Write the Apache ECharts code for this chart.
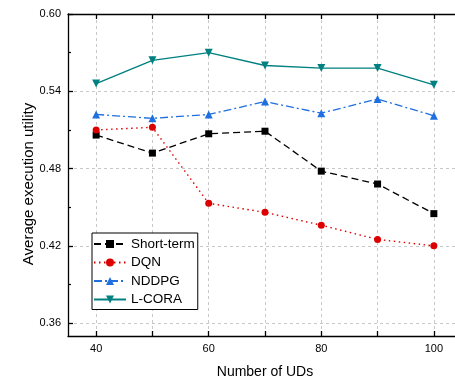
<!DOCTYPE html>
<html>
<head>
<meta charset="utf-8">
<script src="https://cdn.jsdelivr.net/npm/echarts@6/dist/echarts.min.js"></script>
<style>html,body{margin:0;padding:0;background:#fff;}#c{width:455px;height:379px;}</style>
</head>
<body>
<div id="c"></div>
<script>
var xValues = [40, 50, 60, 70, 80, 90, 100];
var shortTerm = [0.506, 0.492, 0.507, 0.509, 0.478, 0.468, 0.445];
var dqn = [0.510, 0.512, 0.453, 0.446, 0.436, 0.425, 0.420];
var nddpg = [0.522, 0.519, 0.522, 0.532, 0.523, 0.534, 0.521];
var lcora = [0.546, 0.564, 0.570, 0.560, 0.558, 0.558, 0.545];
var xTickValues = [40, 50, 60, 70, 80, 90, 100];
var xLabelValues = [40, 60, 80, 100];
var yMajorValues = [0.36, 0.42, 0.48, 0.54, 0.60];
var yMinorValues = [0.39, 0.45, 0.51, 0.57];
var seriesNames = ['Short-term', 'DQN', 'NDDPG', 'L-CORA'];

function pairs(arr) { return arr.map(function (v, i) { return [xValues[i], v]; }); }

var font = 'Liberation Sans, Arial, sans-serif';
var chart = echarts.init(document.getElementById('c'), null, { renderer: 'canvas' });
var axisLine = { show: true, lineStyle: { color: '#000', width: 1.3 } };
var gridLine = { show: true, lineStyle: { color: '#c8c8c8', type: [3, 3], width: 1 } };

chart.setOption({
  animation: false,
  backgroundColor: '#fff',
  grid: { left: 68, top: 14, width: 394, height: 322, containLabel: false, outerBoundsMode: 'none' },
  legend: {
    data: seriesNames,
    orient: 'vertical',
    left: 92, top: 233,
    padding: [3, 3, 2, 1],
    itemWidth: 32, itemHeight: 10, itemGap: 2.5,
    borderColor: '#000', borderWidth: 1,
    backgroundColor: '#fff',
    textStyle: { fontFamily: font, fontSize: 13.5, color: '#000', lineHeight: 16 }
  },
  xAxis: [{
    type: 'value', min: 35, max: 105, position: 'bottom',
    name: 'Number of UDs', nameLocation: 'middle', nameGap: 29,
    nameTextStyle: { fontFamily: font, fontSize: 14, color: '#000' },
    axisLine: axisLine,
    axisTick: { show: true, inside: true, length: 5, customValues: xTickValues, lineStyle: { color: '#000', width: 1.3 } },
    axisLabel: { customValues: xLabelValues, fontFamily: font, fontSize: 11, color: '#000', margin: 7 },
    splitLine: gridLine
  }, {
    type: 'value', min: 35, max: 105, position: 'top',
    axisLine: axisLine,
    axisTick: { show: true, inside: true, length: 5, customValues: xTickValues, lineStyle: { color: '#000', width: 1.3 } },
    axisLabel: { show: false },
    splitLine: { show: false }
  }],
  yAxis: [{
    type: 'value', min: 0.35, max: 0.60, position: 'left',
    name: 'Average execution utility', nameLocation: 'middle', nameGap: 32, nameMoveOverlap: false,
    nameTextStyle: { fontFamily: font, fontSize: 15, color: '#000', padding: [0, 18, 0, 0] },
    axisLine: axisLine,
    axisTick: { show: true, inside: true, length: 5, customValues: yMajorValues, lineStyle: { color: '#000', width: 1.3 } },
    axisLabel: { customValues: yMajorValues, formatter: function (v) { return v.toFixed(2); }, fontFamily: font, fontSize: 11, color: '#000', margin: 7 },
    splitLine: gridLine
  }, {
    type: 'value', min: 0.35, max: 0.60, position: 'left',
    axisLine: { show: false },
    axisTick: { show: true, inside: true, length: 3, customValues: yMinorValues, lineStyle: { color: '#000', width: 1.2 } },
    axisLabel: { show: false },
    splitLine: { show: false }
  }, {
    type: 'value', min: 0.35, max: 0.60, position: 'right',
    axisLine: axisLine,
    axisTick: { show: false },
    axisLabel: { show: false },
    splitLine: { show: false }
  }],
  series: [{
    name: 'Short-term', type: 'line', data: pairs(shortTerm),
    symbol: 'rect', symbolSize: 7,
    itemStyle: { color: '#000' },
    lineStyle: { color: '#000', width: 1.3, type: [7, 4] }
  }, {
    name: 'DQN', type: 'line', data: pairs(dqn),
    symbol: 'circle', symbolSize: 7,
    itemStyle: { color: '#dd0000' },
    lineStyle: { color: '#dd0000', width: 1.4, type: [1.5, 3.5] }
  }, {
    name: 'NDDPG', type: 'line', data: pairs(nddpg),
    symbol: 'triangle', symbolSize: 8,
    itemStyle: { color: '#1f6fe0' },
    lineStyle: { color: '#1f6fe0', width: 1.3, type: [8, 3, 2, 3] }
  }, {
    name: 'L-CORA', type: 'line', data: pairs(lcora),
    symbol: 'triangle', symbolRotate: 180, symbolSize: 8,
    itemStyle: { color: '#008080' },
    lineStyle: { color: '#008080', width: 1.4, type: 'solid' }
  }]
});
</script>
</body>
</html>
